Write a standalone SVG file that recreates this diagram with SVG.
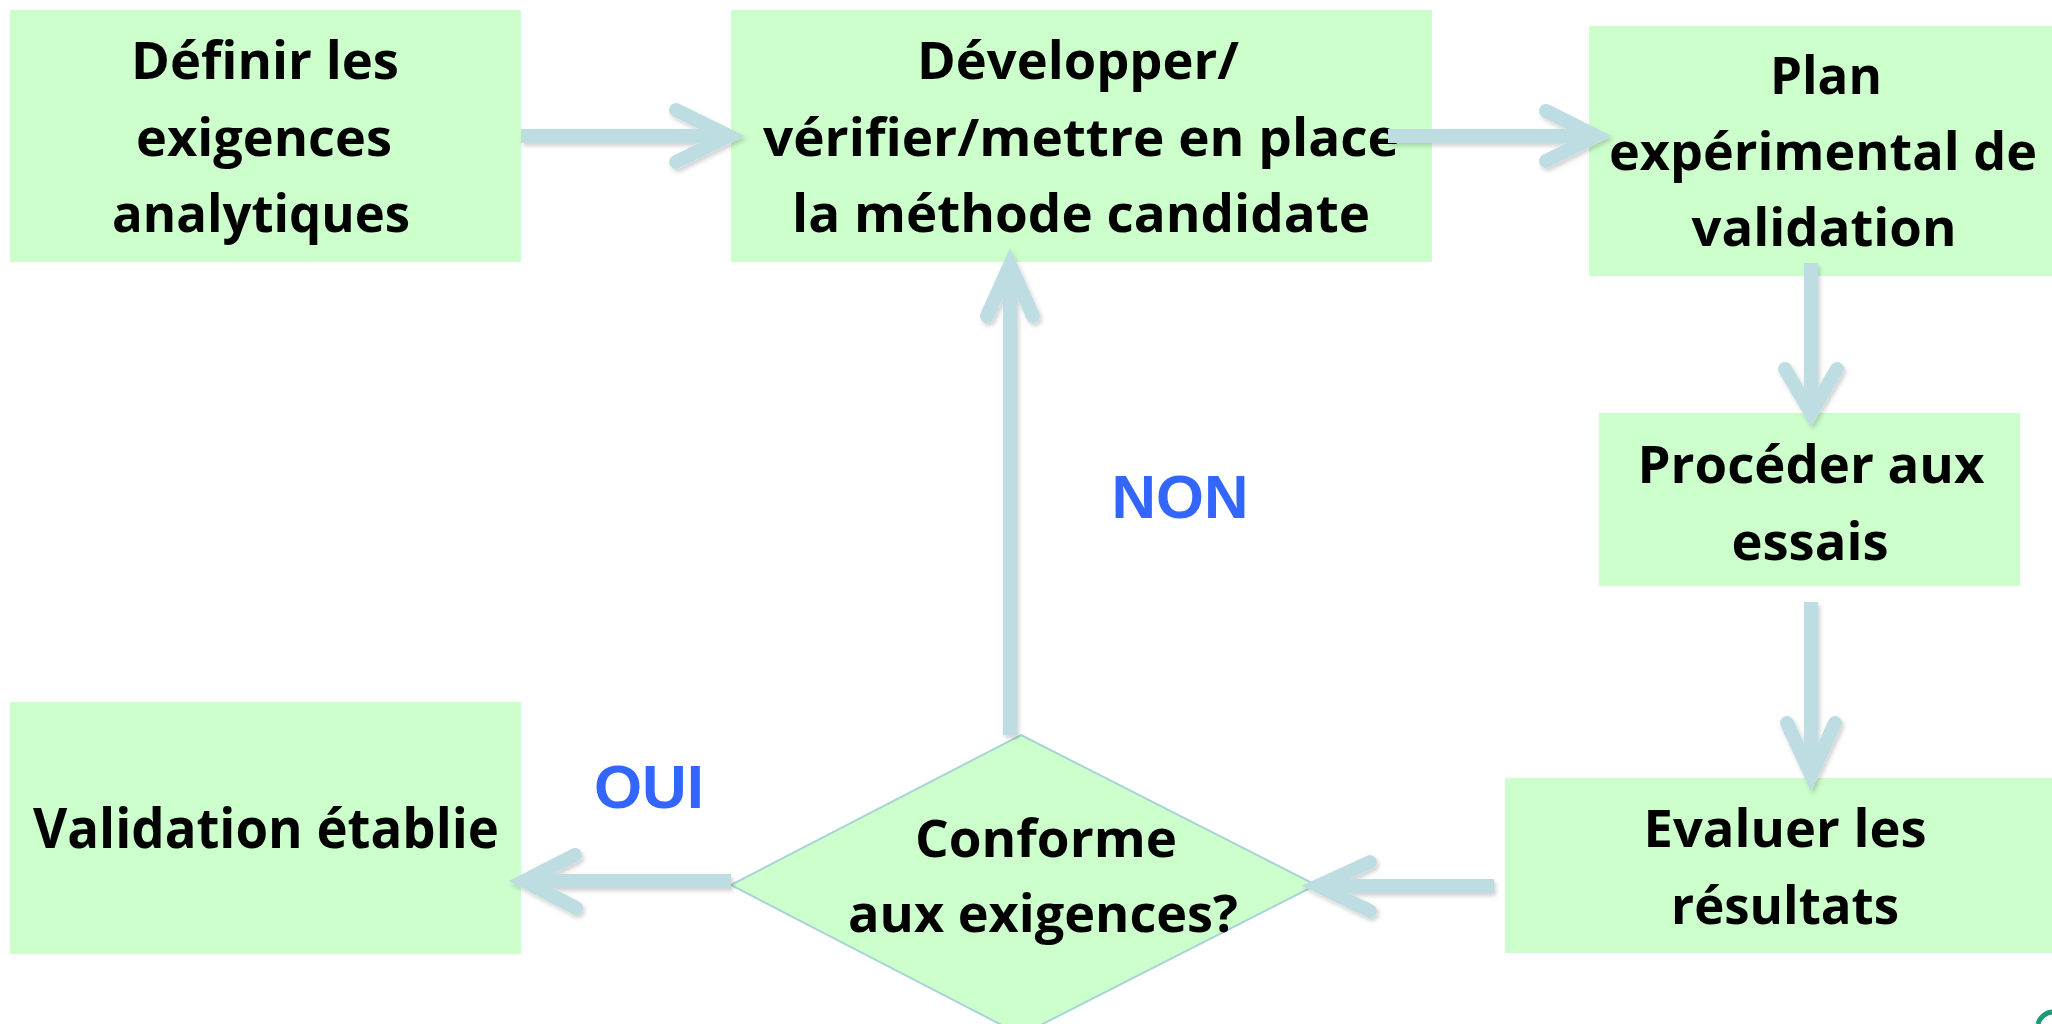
<svg xmlns="http://www.w3.org/2000/svg" width="2052" height="1024" viewBox="0 0 2052 1024">
<defs>
<style>
.box{fill:#CCFFCC;}
.dia{fill:#CCFFCC;stroke:#A8D4D8;stroke-width:2;}
.t{font-family:"Open Sans","Noto Sans","Liberation Sans",sans-serif;font-weight:700;font-size:52px;fill:#000;text-anchor:middle;}
.lbl{font-family:"Liberation Sans",Arial,sans-serif;font-weight:700;font-size:62px;fill:#3366FF;text-anchor:middle;}
.ln{fill:none;stroke:#BEDDE2;stroke-width:14;stroke-linecap:butt;}
.hd{fill:none;stroke:#BEDDE2;stroke-width:14;stroke-linecap:round;stroke-linejoin:miter;}
</style>
<filter id="sh" x="-20%" y="-20%" width="140%" height="140%">
<feDropShadow dx="2" dy="3" stdDeviation="2" flood-color="#000" flood-opacity="0.18"/>
</filter>
</defs>
<rect width="2052" height="1024" fill="#fff"/>

<g id="node-definir">
<rect class="box" x="10" y="10" width="511" height="252"/>
<text class="t" x="265" y="79" textLength="268" lengthAdjust="spacingAndGlyphs">Définir les</text>
<text class="t" x="264" y="156" textLength="256" lengthAdjust="spacingAndGlyphs">exigences</text>
<text class="t" x="261" y="232" textLength="298" lengthAdjust="spacingAndGlyphs">analytiques</text>
</g>

<g id="node-developper">
<rect class="box" x="731" y="10" width="701" height="252"/>
<text class="t" x="1078" y="79" textLength="322" lengthAdjust="spacingAndGlyphs">Développer/</text>
<text class="t" x="1081" y="156" textLength="636" lengthAdjust="spacingAndGlyphs">vérifier/mettre en place</text>
<text class="t" x="1081" y="232" textLength="578" lengthAdjust="spacingAndGlyphs">la méthode candidate</text>
</g>

<g id="node-plan">
<rect class="box" x="1589" y="26" width="463" height="250"/>
<text class="t" x="1826" y="94" textLength="112" lengthAdjust="spacingAndGlyphs">Plan</text>
<text class="t" x="1823" y="170" textLength="428" lengthAdjust="spacingAndGlyphs">expérimental de</text>
<text class="t" x="1824" y="246" textLength="265" lengthAdjust="spacingAndGlyphs">validation</text>
</g>

<g id="node-proceder">
<rect class="box" x="1599" y="413" width="421" height="173"/>
<text class="t" x="1811" y="483" textLength="347" lengthAdjust="spacingAndGlyphs">Procéder aux</text>
<text class="t" x="1810" y="560" textLength="157" lengthAdjust="spacingAndGlyphs">essais</text>
</g>

<g id="node-evaluer">
<rect class="box" x="1505" y="778" width="547" height="175"/>
<text class="t" x="1785" y="847" textLength="283" lengthAdjust="spacingAndGlyphs">Evaluer les</text>
<text class="t" x="1785" y="924" textLength="228" lengthAdjust="spacingAndGlyphs">résultats</text>
</g>

<g id="node-conforme">
<polygon class="dia" points="1021,735 1316,885 1021,1035 731,885"/>
<text class="t" x="1046" y="857" textLength="262" lengthAdjust="spacingAndGlyphs">Conforme</text>
<text class="t" x="1043" y="932" textLength="390" lengthAdjust="spacingAndGlyphs">aux exigences?</text>
</g>

<g id="node-validation">
<rect class="box" x="10" y="702" width="511" height="252"/>
<text class="t" x="266" y="848" style="font-size:55px" textLength="466" lengthAdjust="spacingAndGlyphs">Validation établie</text>
</g>

<g id="connectors" filter="url(#sh)">
<line class="ln" x1="521" y1="136" x2="726" y2="136"/>
<polyline class="hd" points="676,110 729,136 676,162"/>

<line class="ln" x1="1388" y1="136" x2="1592" y2="136"/>
<polyline class="hd" points="1546,111 1596,136 1546,161"/>

<line class="ln" x1="1811" y1="263" x2="1811" y2="410"/>
<polyline class="hd" points="1785,369 1811,413 1837,369"/>

<line class="ln" x1="1811" y1="602" x2="1811" y2="772"/>
<polyline class="hd" points="1787,723 1811,775 1835,723"/>

<line class="ln" x1="1494" y1="886" x2="1322" y2="886"/>
<polyline class="hd" points="1370,862 1318,886 1370,911"/>

<line class="ln" x1="731" y1="881" x2="527" y2="881"/>
<polyline class="hd" points="575,855 524,881 576,908"/>

<line class="ln" x1="1010" y1="735" x2="1010" y2="268"/>
<polyline class="hd" points="987,316 1010,265 1033,316"/>
</g>

<g id="labels">
<text class="lbl" x="1180" y="518" textLength="137" lengthAdjust="spacingAndGlyphs">NON</text>
<text class="lbl" x="649" y="808" textLength="110" lengthAdjust="spacingAndGlyphs">OUI</text>
</g>

<path d="M2038,1024 A16,16 0 0 1 2052,1012" fill="none" stroke="#1A9A7A" stroke-width="5"/>
</svg>
